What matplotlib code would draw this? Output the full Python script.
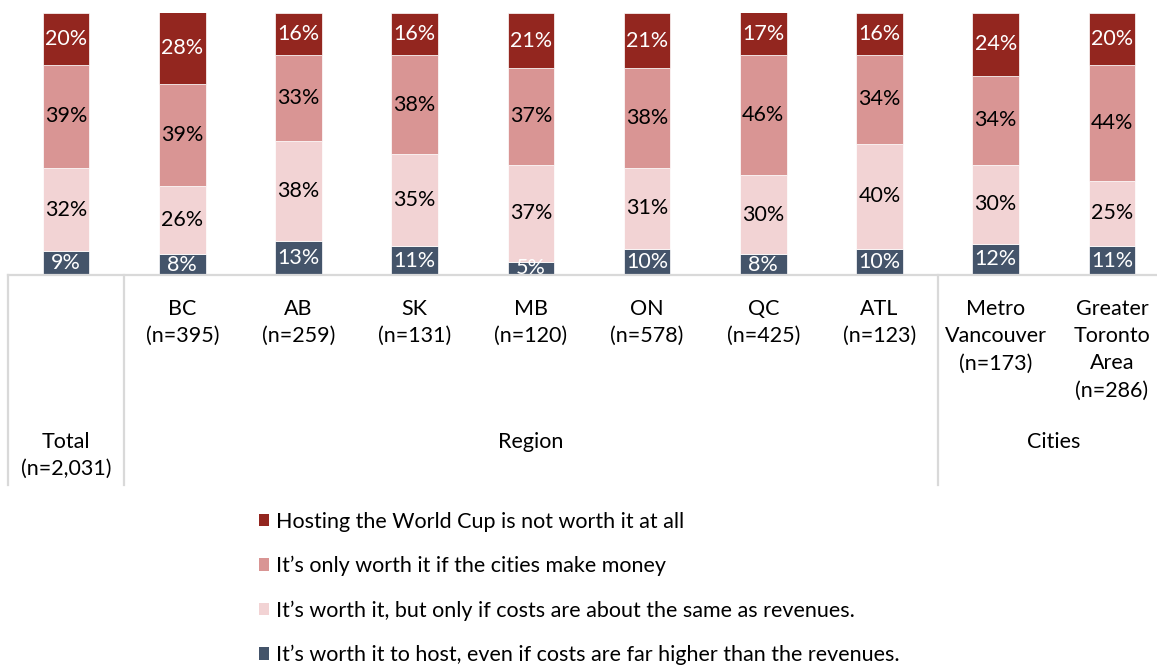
import matplotlib.pyplot as plt
from matplotlib.patches import Patch

# data
cat_labels = ['Total\n(n=2,031)', 'BC\n(n=395)', 'AB\n(n=259)', 'SK\n(n=131)',
              'MB\n(n=120)', 'ON\n(n=578)', 'QC\n(n=425)', 'ATL\n(n=123)',
              'Metro\nVancouver\n(n=173)', 'Greater\nToronto\nArea\n(n=286)']
far_higher = [9, 8, 13, 11, 5, 10, 8, 10, 12, 11]
same_as_rev = [32, 26, 38, 35, 37, 31, 30, 40, 30, 25]
make_money = [39, 39, 33, 38, 37, 38, 46, 34, 34, 44]
not_worth = [20, 28, 16, 16, 21, 21, 17, 16, 24, 20]

series_names = ["It\u2019s worth it to host, even if costs are far higher than the revenues.",
                "It\u2019s worth it, but only if costs are about the same as revenues.",
                "It\u2019s only worth it if the cities make money",
                "Hosting the World Cup is not worth it at all"]
series_vals = [far_higher, same_as_rev, make_money, not_worth]
colors = ['#44546A', '#F2D3D4', '#D99594', '#93261F']
text_colors = ['white', 'black', 'black', 'white']

groups = [('Region', 0.5, 7.5), ('Cities', 7.5, 9.5)]

plt.rcParams['font.family'] = ['Lato', 'DejaVu Sans']
FS = 15.5

W, H = 1157, 666
fig = plt.figure(figsize=(W / 100, H / 100), dpi=100)
ax = fig.add_axes([8 / W, (H - 275) / H, 1162 / W, 262 / H])

x = list(range(len(cat_labels)))
bottom = [0] * len(x)
for vals, col, tcol, name in zip(series_vals, colors, text_colors, series_names):
    bars = ax.bar(x, vals, width=0.4, bottom=bottom, color=col,
                  edgecolor='white', linewidth=0.5, label=name)
    labs = ax.bar_label(bars, labels=[f'{v}%' for v in vals], label_type='center',
                        color=tcol, fontsize=FS)
    for t in labs:
        t.set_clip_on(True)
    bottom = [b + v for b, v in zip(bottom, vals)]

ax.set_xlim(-0.5, len(x) - 0.5)
ax.set_ylim(0, 100)
ax.set_xticks([])
ax.set_yticks([])
for s in ['top', 'right', 'left']:
    ax.spines[s].set_visible(False)
ax.spines['bottom'].set_color('#D9D9D9')
ax.spines['bottom'].set_linewidth(1.6)

tr = ax.get_xaxis_transform()
# category labels
for i, lab in enumerate(cat_labels):
    off = 157 if i == 0 else 24
    ax.annotate(lab, xy=(i, 0), xycoords=tr, xytext=(0, -off * 0.72),
                textcoords='offset points', ha='center', va='top',
                fontsize=FS, linespacing=1.45)
for name, a, b in groups:
    ax.annotate(name, xy=((a + b) / 2, 0), xycoords=tr, xytext=(0, -157 * 0.72),
                textcoords='offset points', ha='center', va='top', fontsize=FS)

# table separators
for xs in [-0.5, 0.5, 7.5, 9.5]:
    ax.plot([xs, xs], [0, -210 / 262], transform=tr, color='#D9D9D9',
            lw=1.6, clip_on=False)

handles = [Patch(facecolor=c) for c in colors[::-1]]
fig.legend(handles, series_names[::-1], loc='upper left',
           bbox_to_anchor=(250 / W, 1 - 503 / H), frameon=False, fontsize=FS,
           handlelength=0.5, handleheight=0.5, handletextpad=0.3,
           labelspacing=1.12, borderaxespad=0)

fig.savefig('out.png', dpi=100)
